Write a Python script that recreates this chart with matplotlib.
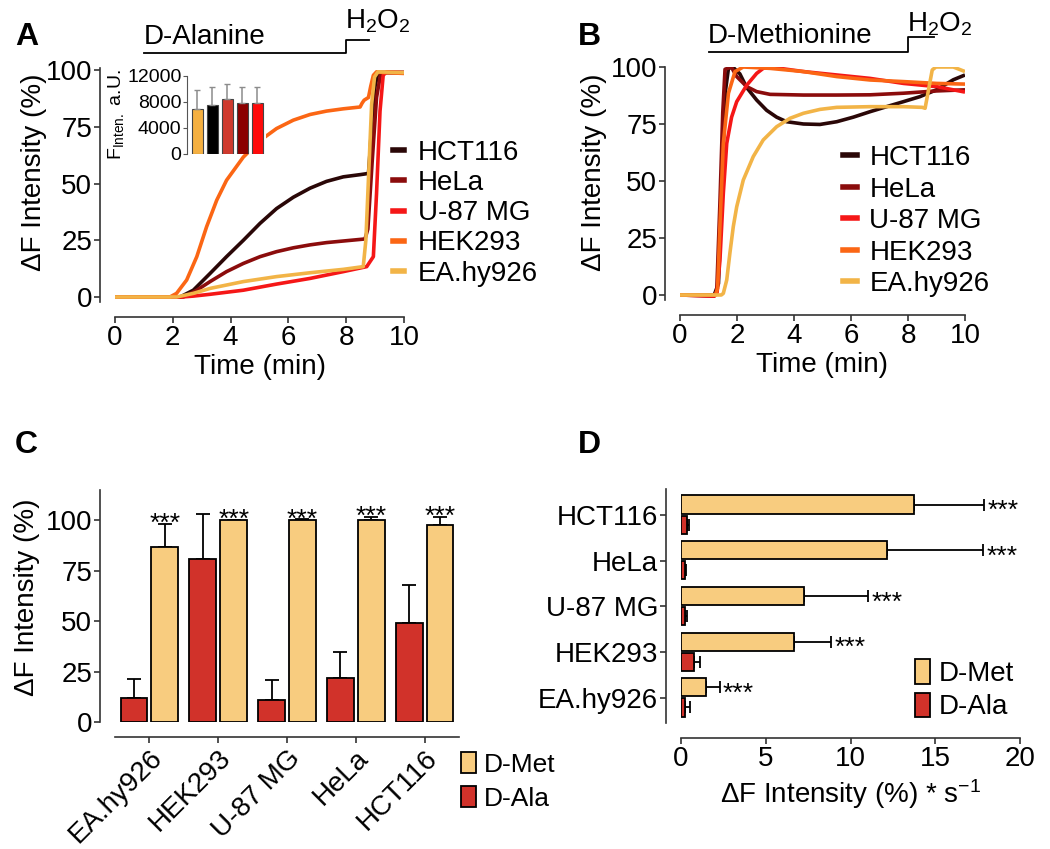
import matplotlib
matplotlib.use('Agg')
import matplotlib.pyplot as plt
from matplotlib.patches import Patch
from matplotlib.lines import Line2D
import numpy as np

plt.rcParams['font.family'] = ['Liberation Sans', 'DejaVu Sans']
plt.rcParams['mathtext.default'] = 'regular'

cells = ['HCT116', 'HeLa', 'U-87 MG', 'HEK293', 'EA.hy926']
cell_colors = ['#2a0707', '#8b0c0c', '#f51717', '#fb6614', '#f2b447']

# ---- panel A : D-Alanine time courses (time in min, dF in %)
a_hct_t = [0, 2.25, 2.71, 3.29, 3.86, 4.44, 5.02, 5.59, 6.17, 6.75, 7.32, 7.9, 8.5, 8.77, 8.82, 8.9, 9.0, 9.1, 10]
a_hct_v = [0, 0, 3, 10.4, 17.8, 25, 32.5, 39, 44, 48, 51, 53, 54, 54.5, 63, 80, 93, 99, 99]
a_hela_t = [0, 2.36, 2.83, 3.29, 3.86, 4.44, 5.02, 5.59, 6.17, 6.75, 7.32, 7.9, 8.65, 8.75, 8.9, 9.05, 9.2, 10]
a_hela_v = [0, 0, 3, 6.8, 11.2, 14.8, 17.8, 20, 21.7, 23, 24, 24.7, 25.6, 30, 60, 88, 99, 99]
a_u87_t = [0, 2.3, 2.71, 3.29, 4.44, 5.59, 6.75, 7.9, 8.71, 8.94, 9.05, 9.17, 9.28, 9.4, 10]
a_u87_v = [0, 0, 0.4, 1.2, 3, 5.7, 8.2, 11.2, 13.4, 17.8, 45.7, 82, 97.8, 99.3, 99]
a_hek_t = [0, 1.9, 2.13, 2.48, 2.83, 3.17, 3.52, 3.86, 4.44, 5.02, 5.59, 6.17, 6.75, 7.32, 7.9, 8.48,
           8.55, 8.62, 8.77, 8.85, 8.94, 9.05, 9.3, 10]
a_hek_v = [0, 0, 1.6, 7.5, 17.8, 31, 42.7, 51.5, 61.7, 69, 74.3, 78, 80.5, 82, 83, 83.8,
           85.5, 86.8, 88, 93, 97.8, 99.3, 99, 98.6]
a_ea_t = [0, 2.13, 2.71, 3.29, 4.44, 5.59, 6.75, 7.9, 8.59, 8.68, 8.78, 8.88, 8.98, 9.1, 10]
a_ea_v = [0, 0, 1.6, 3.8, 6.8, 9, 10.7, 12.2, 13.4, 25, 55, 85, 97, 99.3, 99]

# inset of A : fluorescence intensity (a.U.)
inset_vals = [6870, 7540, 8410, 7800, 7800]
inset_errs = [9850, 10360, 10770, 10260, 10360]
inset_colors = ['#f5b041', '#000000', '#cf3a2e', '#8b0000', '#ff0a0a']

# ---- panel B : D-Methionine time courses
b_hct_t = [0, 1.2, 1.35, 1.5, 1.6, 1.7, 1.85, 2.1, 2.34, 2.69, 3.04, 3.39, 3.74, 4.33, 4.91, 5.5,
           6.08, 6.67, 7.25, 7.84, 8.42, 9.0, 9.59, 10]
b_hct_v = [0, 0, 5, 60, 90, 99.4, 100, 97, 91, 85.5, 81, 78, 76, 75, 74.8, 76,
           78, 80.4, 82.6, 84.8, 87, 90, 94.4, 96.5]
b_hela_t = [0, 1.2, 1.29, 1.4, 1.5, 1.58, 1.8, 1.99, 2.34, 2.69, 3.16, 4.33, 5.5, 6.67, 7.84, 9.0, 10]
b_hela_v = [0, -0.5, 2, 40, 80, 99, 100, 95.8, 91.4, 89.2, 88, 87.7, 87.7, 87.8, 88.5, 89.5, 90]
b_u87_t = [0, 1.2, 1.3, 1.4, 1.52, 1.64, 1.81, 1.99, 2.34, 2.69, 2.92, 3.16, 4.33, 5.5, 6.67, 7.84, 9.0, 10]
b_u87_v = [0, -0.5, 1, 15, 44.6, 66.5, 78, 84.8, 92, 97.2, 99.4, 100, 98, 96.5, 95, 92.8, 91.4, 89]
b_hek_t = [0, 1.25, 1.32, 1.4, 1.52, 1.7, 1.93, 2.22, 3.16, 4.33, 5.5, 6.67, 7.84, 9.0, 10]
b_hek_v = [0, 0, 3, 30, 66.5, 88.5, 98, 100, 99.4, 98, 95.8, 94.3, 93.6, 92.8, 92.5]
b_ea_t = [0, 1.45, 1.52, 1.64, 1.75, 1.87, 1.99, 2.22, 2.57, 2.92, 3.39, 3.86, 4.33, 4.91, 5.5,
          6.67, 7.84, 8.5, 8.6, 8.85, 8.98, 9.59, 10]
b_ea_v = [0, 0, 0.7, 6.6, 18.3, 30, 38.7, 50.4, 60.7, 68, 73.8, 77.5, 79.7, 81.4, 82.3,
          82.6, 82.6, 82.3, 81.9, 98.7, 100, 100, 98]

# ---- panel C : maximal dF (%)
c_cells = ['EA.hy926', 'HEK293', 'U-87 MG', 'HeLa', 'HCT116']
c_ala = [12, 81, 11, 22, 49]
c_ala_err = [21.5, 103, 21, 34.5, 68]
c_met = [86.8, 100, 100, 100, 97.7]
c_met_err = [98, 100.3, 100.4, 101.5, 101.8]

# ---- panel D : rate of dF (% * s-1)
d_cells = ['EA.hy926', 'HEK293', 'U-87 MG', 'HeLa', 'HCT116']
d_met = [1.47, 6.64, 7.23, 12.14, 13.77]
d_met_err = [2.28, 8.86, 11.06, 17.8, 17.9]
d_ala = [0.26, 0.79, 0.22, 0.22, 0.35]
d_ala_err = [0.55, 1.14, 0.35, 0.28, 0.45]

met_color = '#f8cc7f'
ala_color = '#d1322a'

fig = plt.figure(figsize=(10.5, 8.49), dpi=100)
W, H = 1050.0, 849.0


def box(x0, y0, x1, y1):
    # pixel box -> figure fraction
    return [x0 / W, 1 - y1 / H, (x1 - x0) / W, (y1 - y0) / H]


def style(ax, size=20):
    for s in ['top', 'right']:
        ax.spines[s].set_visible(False)
    for s in ['left', 'bottom']:
        ax.spines[s].set_position(('outward', 10.5))
        ax.spines[s].set_linewidth(1.2)
        ax.spines[s].set_color('#333333')
    ax.tick_params(direction='out', length=4, width=1.2, color='#333333', labelsize=size, pad=2)


def time_panel(ax, curves, ylo):
    for (t, v), c, name in zip(curves, cell_colors, cells):
        ax.plot(t, v, color=c, lw=2.6, label=name, solid_capstyle='butt')
    ax.set_xlim(0, 10)
    ax.set_ylim(ylo, 101)
    ax.set_xticks([0, 2, 4, 6, 8, 10])
    ax.set_yticks([0, 25, 50, 75, 100])
    style(ax)
    ax.set_xlabel('Time (min)', fontsize=20, labelpad=2)
    ax.set_ylabel('ΔF Intensity (%)', fontsize=20)


handles = [Line2D([], [], color=c, lw=4) for c in cell_colors]

# ---------------- A
axA = fig.add_axes(box(115, 68, 404, 302))
time_panel(axA, [(a_hct_t, a_hct_v), (a_hela_t, a_hela_v), (a_u87_t, a_u87_v),
                 (a_hek_t, a_hek_v), (a_ea_t, a_ea_v)], -2.2)
axA.yaxis.set_label_coords(-0.235, 0.555)
axA.plot([1.0, 8.0, 8.0, 8.8], [107.5, 107.5, 113.2, 113.2], color='black', lw=1.3, clip_on=False)
axA.text(1.0, 109, 'D-Alanine', fontsize=20, ha='left', va='bottom')
axA.text(7.95, 118.3, 'H$_2$O$_2$', fontsize=20, ha='left', va='baseline')
fig.legend(handles, cells, loc='upper left', bbox_to_anchor=(393 / W, 1 - 140 / H),
           bbox_transform=fig.transFigure, frameon=False, fontsize=20, borderpad=0,
           borderaxespad=0, handlelength=0.4, handletextpad=0.5, labelspacing=0.15)

# inset
axI = fig.add_axes(box(187, 76, 266, 154))
xs = np.arange(len(inset_vals))
axI.bar(xs, inset_vals, width=0.74, color=inset_colors, edgecolor='#444444', lw=0.8)
axI.errorbar(xs, inset_vals, yerr=[np.zeros(5), np.array(inset_errs) - np.array(inset_vals)],
             fmt='none', ecolor='#8c8c8c', elinewidth=1.1, capsize=2.5)
axI.set_xlim(-0.7, 4.6)
axI.set_ylim(0, 12000)
axI.set_yticks([0, 4000, 8000, 12000])
for s in ['top', 'right', 'bottom']:
    axI.spines[s].set_visible(False)
axI.spines['left'].set_color('#555555')
axI.set_xticks([])
axI.tick_params(axis='y', length=3, labelsize=14, pad=1, color='#555555')
axI.set_ylabel('F$_{Inten.}$ a.U.', fontsize=14, labelpad=1)

# ---------------- B
axB = fig.add_axes(box(680, 67, 965, 300))
time_panel(axB, [(b_hct_t, b_hct_v), (b_hela_t, b_hela_v), (b_u87_t, b_u87_v),
                 (b_hek_t, b_hek_v), (b_ea_t, b_ea_v)], -2.2)
axB.set_ylim(-2.2, 100)
axB.yaxis.set_label_coords(-0.256, 0.549)
axB.plot([1.0, 8.0, 8.0, 8.9], [106.6, 106.6, 113.2, 113.2], color='black', lw=1.3, clip_on=False)
axB.text(0.98, 108, 'D-Methionine', fontsize=20, ha='left', va='bottom')
axB.text(7.95, 115.4, 'H$_2$O$_2$', fontsize=20, ha='left', va='baseline')
fig.legend(handles, cells, loc='upper left', bbox_to_anchor=(843 / W, 1 - 145 / H),
           bbox_transform=fig.transFigure, frameon=False, fontsize=20, borderpad=0,
           borderaxespad=0, handlelength=0.5, handletextpad=0.45, labelspacing=0.2)

# ---------------- C
axC = fig.add_axes(box(115, 490, 459, 722))
style(axC)
xc = np.arange(len(c_cells))
bw = 0.39
axC.bar(xc - 0.225, c_ala, width=bw, color=ala_color, edgecolor='black', lw=1.3, zorder=2)
axC.bar(xc + 0.225, c_met, width=bw, color=met_color, edgecolor='black', lw=1.3, zorder=2)
axC.errorbar(xc - 0.225, c_ala, yerr=[np.zeros(5), np.array(c_ala_err) - np.array(c_ala)],
             fmt='none', ecolor='black', elinewidth=1.3, capsize=5, capthick=1.3, zorder=1)
axC.errorbar(xc + 0.225, c_met, yerr=[np.zeros(5), np.array(c_met_err) - np.array(c_met)],
             fmt='none', ecolor='black', elinewidth=1.3, capsize=5, capthick=1.3, zorder=1)
for x, e in zip(xc, c_met_err):
    axC.text(x + 0.225, e - 3.5, '***', fontsize=19, ha='center', va='baseline')
axC.set_xlim(-0.5, 4.5)
axC.set_ylim(0, 115)
axC.set_yticks([0, 25, 50, 75, 100])
axC.set_xticks(xc)
axC.set_xticklabels(c_cells)
for lbl in axC.get_xticklabels():
    lbl.set_rotation(45)
    lbl.set_horizontalalignment('right')
    lbl.set_rotation_mode('anchor')
axC.set_ylabel('ΔF Intensity (%)', fontsize=20)
axC.yaxis.set_label_coords(-0.218, 0.539)
leg_handles = [Patch(facecolor=met_color, edgecolor='black', lw=1.3),
               Patch(facecolor=ala_color, edgecolor='black', lw=1.3)]
fig.legend(leg_handles, ['D-Met', 'D-Ala'], loc='upper left', bbox_to_anchor=(461 / W, 1 - 752 / H),
           bbox_transform=fig.transFigure, frameon=False, fontsize=19, borderpad=0,
           borderaxespad=0, handlelength=0.55, handleheight=0.85, handletextpad=0.3, labelspacing=0.35)

# ---------------- D
axD = fig.add_axes(box(681, 489, 1020, 723))
yd = np.arange(len(d_cells))
bh = 0.4
axD.barh(yd + 0.23, d_met, height=bh, color=met_color, edgecolor='black', lw=1.3, zorder=2)
axD.barh(yd - 0.21, d_ala, height=bh, color=ala_color, edgecolor='black', lw=1.3, zorder=2)
axD.errorbar(d_met, yd + 0.23, xerr=[np.zeros(5), np.array(d_met_err) - np.array(d_met)],
             fmt='none', ecolor='black', elinewidth=1.3, capsize=4, capthick=1.3, zorder=1)
axD.errorbar(d_ala, yd - 0.21, xerr=[np.zeros(5), np.array(d_ala_err) - np.array(d_ala)],
             fmt='none', ecolor='black', elinewidth=1.3, capsize=4, capthick=1.3, zorder=1)
for y, e in zip(yd, d_met_err):
    axD.text(e + 0.2, y + 0.23 - 0.3, '***', fontsize=19, ha='left', va='baseline')
axD.set_xlim(0, 20)
axD.set_ylim(-0.55, 4.57)
axD.set_xticks([0, 5, 10, 15, 20])
axD.set_yticks(yd)
axD.set_yticklabels(d_cells)
style(axD)
axD.set_xlabel('ΔF Intensity (%) * s$^{-1}$', fontsize=20, labelpad=4)
fig.legend(leg_handles, ['D-Met', 'D-Ala'], loc='upper left', bbox_to_anchor=(915 / W, 1 - 659 / H),
           bbox_transform=fig.transFigure, frameon=False, fontsize=20, borderpad=0,
           borderaxespad=0, handlelength=0.55, handleheight=1.0, handletextpad=0.3, labelspacing=0.2)

# panel letters
for lab, x, y in [('A', 15, 22), ('B', 578, 22), ('C', 15, 430), ('D', 578, 430)]:
    fig.text(x / W, 1 - y / H, lab, fontsize=23, fontweight='bold', ha='left', va='top')

fig.savefig('out.png', dpi=100)
